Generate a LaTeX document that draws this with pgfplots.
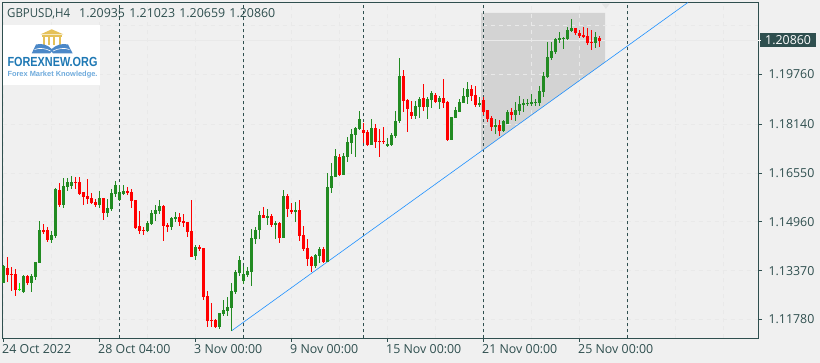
\documentclass[border=0pt]{standalone}
\usepackage{pgfplots}
\usepackage{pgfplotstable}
\usepackage{fontspec}
\setmainfont{Open Sans}
\newfontfamily\logofont{Liberation Sans}
\pgfplotsset{compat=1.18}
\definecolor{bgc}{HTML}{F0F0F0}
\definecolor{frame}{HTML}{2F4F4F}
\definecolor{gridc}{HTML}{E9E9E9}
\definecolor{shade}{HTML}{D3D3D3}
\definecolor{upc}{HTML}{228B22}
\definecolor{downc}{HTML}{FF0000}
\definecolor{limec}{HTML}{00FF00}
\definecolor{trend}{HTML}{1E90FF}
% columns: candle index, high, body top, body bottom, low
\pgfplotstableread{
i h t b l
0 1.1356 1.1353 1.1298 1.1298
5 1.1324 1.1320 1.1268 1.1265
7 1.1326 1.1320 1.1297 1.1268
8 1.1364 1.1364 1.1318 1.1308
9 1.1499 1.1470 1.1363 1.1363
12 1.1466 1.1453 1.1437 1.1427
13 1.1605 1.1603 1.1450 1.1443
15 1.1638 1.1613 1.1551 1.1540
16 1.1638 1.1625 1.1610 1.1598
17 1.1644 1.1626 1.1613 1.1602
24 1.1595 1.1574 1.1551 1.1540
26 1.1572 1.1541 1.1525 1.1513
27 1.1603 1.1590 1.1537 1.1531
28 1.1628 1.1616 1.1587 1.1577
29 1.1616 1.1592 1.1567 1.1564
30 1.1616 1.1597 1.1587 1.1584
36 1.1499 1.1492 1.1466 1.1463
37 1.1535 1.1525 1.1489 1.1486
38 1.1551 1.1535 1.1522 1.1499
39 1.1567 1.1548 1.1531 1.1522
42 1.1512 1.1509 1.1479 1.1470
43 1.1528 1.1512 1.1505 1.1496
48 1.1421 1.1414 1.1385 1.1372
54 1.1199 1.1199 1.1154 1.1147
55 1.1242 1.1209 1.1196 1.1189
56 1.1252 1.1219 1.1206 1.1189
57 1.1297 1.1271 1.1215 1.1141
58 1.1339 1.1333 1.1268 1.1261
59 1.1385 1.1372 1.1329 1.1320
60 1.1352 1.1326 1.1303 1.1294
61 1.1350 1.1336 1.1323 1.1316
62 1.1473 1.1443 1.1333 1.1287
63 1.1480 1.1470 1.1440 1.1424
64 1.1531 1.1518 1.1470 1.1440
66 1.1538 1.1515 1.1509 1.1486
68 1.1499 1.1492 1.1486 1.1440
70 1.1600 1.1580 1.1444 1.1444
73 1.1561 1.1535 1.1528 1.1496
78 1.1391 1.1388 1.1352 1.1346
79 1.1414 1.1408 1.1385 1.1362
81 1.1655 1.1610 1.1365 1.1365
82 1.1688 1.1645 1.1606 1.1590
83 1.1733 1.1711 1.1642 1.1642
85 1.1720 1.1711 1.1649 1.1649
86 1.1772 1.1756 1.1707 1.1691
87 1.1799 1.1782 1.1753 1.1717
88 1.1805 1.1802 1.1779 1.1707
89 1.1857 1.1831 1.1799 1.1795
92 1.1831 1.1802 1.1746 1.1746
96 1.1769 1.1750 1.1743 1.1740
97 1.1786 1.1779 1.1746 1.1743
98 1.1857 1.1825 1.1776 1.1769
99 1.2030 1.1971 1.1825 1.1818
103 1.1890 1.1873 1.1841 1.1831
104 1.1903 1.1896 1.1870 1.1834
106 1.1903 1.1896 1.1870 1.1831
107 1.1922 1.1916 1.1893 1.1867
109 1.1906 1.1900 1.1886 1.1864
112 1.1838 1.1838 1.1763 1.1763
113 1.1870 1.1860 1.1834 1.1834
114 1.1896 1.1886 1.1854 1.1854
115 1.1932 1.1906 1.1883 1.1883
116 1.1952 1.1929 1.1903 1.1880
119 1.1903 1.1883 1.1877 1.1870
123 1.1831 1.1812 1.1805 1.1782
125 1.1828 1.1825 1.1792 1.1789
126 1.1860 1.1854 1.1815 1.1815
128 1.1886 1.1860 1.1844 1.1825
129 1.1906 1.1880 1.1857 1.1844
130 1.1896 1.1883 1.1877 1.1854
131 1.1896 1.1883 1.1880 1.1873
132 1.1912 1.1886 1.1880 1.1873
133 1.1896 1.1886 1.1883 1.1873
134 1.1939 1.1922 1.1883 1.1873
135 1.1984 1.1971 1.1919 1.1903
136 1.2082 1.2033 1.1968 1.1965
137 1.2082 1.2053 1.2030 1.2023
138 1.2095 1.2092 1.2049 1.2043
139 1.2114 1.2095 1.2088 1.2079
140 1.2098 1.2095 1.2092 1.2059
141 1.2131 1.2121 1.2092 1.2088
142 1.2157 1.2127 1.2118 1.2114
148 1.2114 1.2098 1.2079 1.2062
}\upcandles
\pgfplotstableread{
i h t b l
1 1.1380 1.1347 1.1323 1.1300
2 1.1348 1.1326 1.1324 1.1272
3 1.1344 1.1326 1.1274 1.1255
6 1.1324 1.1320 1.1296 1.1291
10 1.1489 1.1470 1.1462 1.1458
11 1.1478 1.1470 1.1437 1.1429
14 1.1622 1.1600 1.1551 1.1544
18 1.1643 1.1626 1.1624 1.1603
19 1.1643 1.1625 1.1587 1.1582
20 1.1594 1.1592 1.1578 1.1550
21 1.1636 1.1580 1.1570 1.1553
22 1.1589 1.1574 1.1557 1.1554
23 1.1570 1.1561 1.1552 1.1546
25 1.1574 1.1574 1.1525 1.1502
31 1.1610 1.1597 1.1590 1.1584
32 1.1603 1.1593 1.1564 1.1541
33 1.1567 1.1567 1.1475 1.1473
34 1.1531 1.1483 1.1467 1.1456
35 1.1479 1.1470 1.1467 1.1453
40 1.1551 1.1548 1.1484 1.1434
41 1.1492 1.1486 1.1479 1.1463
44 1.1525 1.1512 1.1496 1.1483
45 1.1522 1.1499 1.1492 1.1479
46 1.1496 1.1496 1.1463 1.1447
47 1.1567 1.1466 1.1382 1.1382
49 1.1421 1.1414 1.1408 1.1401
50 1.1411 1.1411 1.1251 1.1242
51 1.1271 1.1255 1.1173 1.1154
52 1.1232 1.1176 1.1173 1.1154
53 1.1180 1.1176 1.1154 1.1150
65 1.1544 1.1518 1.1509 1.1509
67 1.1522 1.1515 1.1486 1.1479
69 1.1496 1.1492 1.1444 1.1427
71 1.1587 1.1580 1.1538 1.1512
72 1.1558 1.1535 1.1528 1.1522
74 1.1567 1.1535 1.1450 1.1434
75 1.1483 1.1453 1.1408 1.1401
76 1.1440 1.1411 1.1375 1.1352
77 1.1385 1.1382 1.1352 1.1333
80 1.1414 1.1408 1.1365 1.1362
84 1.1717 1.1707 1.1649 1.1645
90 1.1818 1.1795 1.1786 1.1753
91 1.1795 1.1789 1.1746 1.1743
93 1.1815 1.1802 1.1756 1.1737
94 1.1799 1.1759 1.1756 1.1707
95 1.1805 1.1759 1.1756 1.1750
100 1.1991 1.1971 1.1890 1.1854
101 1.1896 1.1893 1.1864 1.1789
102 1.1890 1.1854 1.1841 1.1831
105 1.1945 1.1900 1.1870 1.1857
108 1.1916 1.1909 1.1886 1.1883
110 1.1961 1.1900 1.1883 1.1867
111 1.1890 1.1886 1.1763 1.1759
117 1.1942 1.1929 1.1906 1.1890
118 1.1939 1.1909 1.1877 1.1870
120 1.1903 1.1893 1.1854 1.1844
121 1.1860 1.1860 1.1831 1.1821
122 1.1841 1.1834 1.1805 1.1792
124 1.1828 1.1812 1.1792 1.1776
127 1.1867 1.1854 1.1844 1.1828
143 1.2127 1.2127 1.2111 1.2105
144 1.2121 1.2111 1.2101 1.2095
145 1.2131 1.2105 1.2098 1.2095
146 1.2127 1.2101 1.2079 1.2072
147 1.2121 1.2082 1.2079 1.2056
149 1.21023 1.20935 1.20860 1.20659
}\downcandles
\pgfplotstableread{
i h t b l
4 1.1296 1.1278 1.1274 1.1270
}\limecandles
\newcommand{\candles}[2]{%
 \addplot[draw=none, no markers, forget plot,
   error bars/.cd, y dir=both, y explicit, error mark=none,
   error bar style={draw=#1, line width=1pt}]
   table[x=i,y=t,y error plus expr=\thisrow{h}-\thisrow{t},y error minus expr=\thisrow{t}-\thisrow{l}] {#2};
 \addplot[draw=none, no markers, forget plot,
   error bars/.cd, y dir=plus, y explicit, error mark=none,
   error bar style={draw=#1, line width=3pt}]
   table[x=i,y=b,y error plus expr=\thisrow{t}-\thisrow{b}] {#2};
}
\begin{document}
\begin{tikzpicture}
\begin{axis}[
  set layers,
  scale only axis, width=756pt, height=336pt,
  at={(2.5pt,24.5pt)}, anchor=south west,
  xmin=-0.25, xmax=188.75, ymin=1.11161, ymax=1.22105,
  clip=false,
  axis line style={draw=frame, line width=1pt},
  xtick pos=bottom, ytick pos=right,
  yticklabel pos=right,
  tick style={draw=frame, line width=1pt},
  xtick={0,24,48,72,96,120,144},
  xticklabels={24 Oct 2022,28 Oct 04:00,3 Nov 00:00,9 Nov 00:00,15 Nov 00:00,21 Nov 00:00,25 Nov 00:00},
  minor xtick={12,36,60,84,108,132,156,168,180},
  ytick={1.1178,1.1337,1.1496,1.1655,1.1814,1.1976},
  yticklabels={1.11780,1.13370,1.14960,1.16550,1.18140,1.19760},
  minor ytick={1.2135},
  major tick length=3.5pt, minor tick length=0pt,
  tick align=outside,
  grid=both,
  major grid style={draw=gridc, line width=1pt, dash pattern=on 4pt off 4pt},
  minor grid style={draw=gridc, line width=1pt, dash pattern=on 4pt off 4pt},
  tick label style={font=\fontsize{12.4pt}{14pt}\selectfont, text=frame},
  xticklabel style={anchor=north west, xshift=-4.8pt, yshift=1pt},
  yticklabel style={anchor=west, xshift=3pt},
]
% page background, sell zone and current price line
\addplot[on layer=axis background, fill=bgc, draw=none, forget plot] coordinates {(-2,1.10) (206,1.10) (206,1.225) (-2,1.225)} -- cycle;
\addplot[on layer=axis background, fill=shade, draw=none, forget plot] coordinates {(119.4,1.21763) (150.4,1.21763) (150.4,1.20154) (119.4,1.17255)} -- cycle;
\addplot[on layer=axis background, fill={rgb,255:red,228;green,228;blue,228}, draw=none, forget plot] coordinates {(149.55,1.2207) (151.6,1.2207) (150.6,1.2190)} -- cycle;
\addplot[on layer=axis grid, draw=gridc, line width=1pt, forget plot] coordinates {(-0.25,1.2086) (188.75,1.2086)};
% period separators
\addplot[draw=frame, line width=1pt, dash pattern=on 3pt off 3pt, forget plot] coordinates {(29,1.11161) (29,1.22105)};
\addplot[draw=frame, line width=1pt, dash pattern=on 3pt off 3pt, forget plot] coordinates {(60,1.11161) (60,1.22105)};
\addplot[draw=frame, line width=1pt, dash pattern=on 3pt off 3pt, forget plot] coordinates {(90,1.11161) (90,1.22105)};
\addplot[draw=frame, line width=1pt, dash pattern=on 3pt off 3pt, forget plot] coordinates {(120,1.11161) (120,1.22105)};
\addplot[draw=frame, line width=1pt, dash pattern=on 3pt off 3pt, forget plot] coordinates {(156,1.11161) (156,1.22105)};
% trend line
\addplot[draw=trend, line width=0.6pt, forget plot] coordinates {(57,1.1141) (171.1,1.22105)};
\candles{upc}{\upcandles}
\candles{downc}{\downcandles}
\candles{limec}{\limecandles}
\end{axis}
\begin{scope}[x=1pt,y=-1pt,shift={(0pt,363pt)}]
\node[anchor=base west, inner sep=0, text=frame, font=\fontsize{12.4pt}{14pt}\selectfont] at (7,17.5) {\scalebox{0.925}[1]{GBPUSD,H4}};
\node[anchor=base west, inner sep=0, text=frame, font=\fontsize{12.4pt}{14pt}\selectfont] at (79,17.5) {1.20935\hspace{1pt} 1.21023\hspace{1pt} 1.20659\hspace{1pt} 1.20860};
% price tag
\fill[frame] (760,33) rectangle (816,47);
\fill[white] (757.5,39.6) rectangle (761,40.6);
\node[anchor=base west, inner sep=0, text=white, font=\fontsize{12.4pt}{14pt}\selectfont] at (765,44.7) {1.20860};
% logo
\definecolor{logogold}{RGB}{229,193,88}
\definecolor{logoblue}{RGB}{76,136,199}
\fill[white] (3,25) rectangle (100,85);
\fill[logogold] (40.7,34.3) -- (51.7,29.3) -- (63.3,34.3) -- cycle;
\fill[logogold] (42,35) rectangle (62,36.6);
\fill[logogold] (42.5,37) rectangle (44.7,45.5);
\fill[logogold] (47.8,37) rectangle (50,45.5);
\fill[logogold] (53.2,37) rectangle (55.4,45.5);
\fill[logogold] (58.5,37) rectangle (60.7,45.5);
\fill[logoblue] (31.7,53.5) -- (36,44.5) .. controls (42,43) and (48,45) .. (51.7,49) .. controls (56,45) and (62,43) .. (68,44.5) -- (72.7,53.5) -- (53,53.5) -- (51.7,51.5) -- (50,53.5) -- cycle;
\draw[white, line width=0.6pt] (34.5,49.5) .. controls (40,47.5) and (46,48.5) .. (50.5,51);
\draw[white, line width=0.6pt] (69.5,49.5) .. controls (64,47.5) and (58,48.5) .. (53,51);
\node[anchor=west, inner sep=0, text={rgb,255:red,30;green,120;blue,180}] at (7.3,62.2) {\resizebox{90pt}{9.2pt}{\logofont\bfseries FOREXNEW.ORG}};
\node[anchor=west, inner sep=0, text={rgb,255:red,110;green,170;blue,220}] at (7.3,74.6) {\resizebox{90pt}{!}{\logofont\bfseries\fontsize{8pt}{9pt}\selectfont Forex Market Knowledge.}};
\end{scope}
\pgfresetboundingbox
\path[use as bounding box] (0pt,0pt) rectangle (820pt,363pt);
\end{tikzpicture}
\end{document}
